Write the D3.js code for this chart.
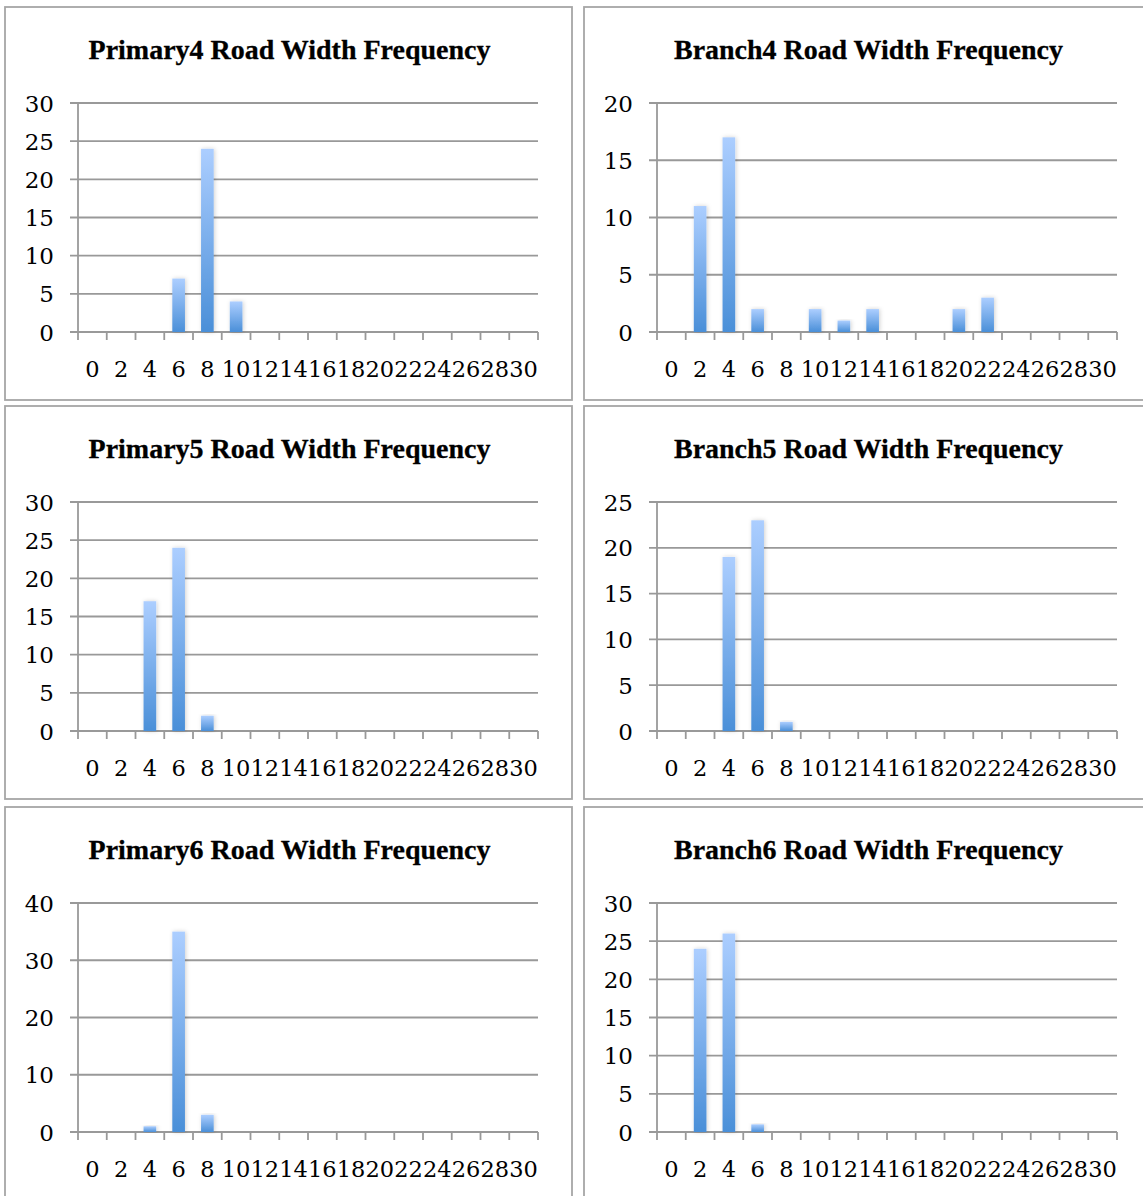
<!DOCTYPE html>
<html><head><meta charset="utf-8">
<script src="https://cdn.jsdelivr.net/npm/d3@7"></script>
<style>body{margin:0;background:#fff}svg{display:block}</style>
</head><body>
<script>
const categories = [0,2,4,6,8,10,12,14,16,18,20,22,24,26,28,30];
const titles = ["Primary4 Road Width Frequency","Branch4 Road Width Frequency","Primary5 Road Width Frequency","Branch5 Road Width Frequency","Primary6 Road Width Frequency","Branch6 Road Width Frequency"];
const primary4 = [0,0,0,7,24,4,0,0,0,0,0,0,0,0,0,0];
const branch4  = [0,11,17,2,0,2,1,2,0,0,2,3,0,0,0,0];
const primary5 = [0,0,17,24,2,0,0,0,0,0,0,0,0,0,0,0];
const branch5  = [0,0,19,23,1,0,0,0,0,0,0,0,0,0,0,0];
const primary6 = [0,0,1,35,3,0,0,0,0,0,0,0,0,0,0,0];
const branch6  = [0,24,26,1,0,0,0,0,0,0,0,0,0,0,0,0];
const yMax = [30,20,30,25,40,30];
const yStep = [5,5,5,5,10,5];
const seriesList = [primary4,branch4,primary5,branch5,primary6,branch6];

const W=1143,H=1196;
const svg=d3.select("body").append("svg").attr("width",W).attr("height",H);
const defs=svg.append("defs");
const g=defs.append("linearGradient").attr("id","barGrad").attr("x1",0).attr("y1",0).attr("x2",0).attr("y2",1);
g.append("stop").attr("offset","0%").attr("stop-color","#acceff");
g.append("stop").attr("offset","100%").attr("stop-color","#4a8fd8");
const f=defs.append("filter").attr("id","shadow").attr("x","-50%").attr("y","-10%").attr("width","200%").attr("height","120%");
f.append("feDropShadow").attr("dx",1).attr("dy",0).attr("stdDeviation",2).attr("flood-color","#000").attr("flood-opacity",0.18);

const gridColor="#999999";
const panelW=567, panelH=393;
seriesList.forEach((vals,i)=>{
  const col=i%2,row=Math.floor(i/2);
  const px=col===0?5:584, py=[7,406,807][row];
  const p=svg.append("g").attr("transform",`translate(${px},${py})`);
  p.append("rect").attr("x",0).attr("y",0).attr("width",panelW).attr("height",panelH)
    .attr("fill","#fff").attr("stroke","#a6a6a6").attr("stroke-width",1.8);
  const t=p.append("text").attr("x",panelW/2+1).attr("y",52).attr("text-anchor","middle")
    .attr("font-family","Liberation Serif").attr("font-weight","bold").attr("font-size",26).attr("fill","#000")
    .attr("stroke","#000").attr("stroke-width",0.3).text(titles[i]);
  const target = col===0?402:389;
  const len=t.node().getComputedTextLength();
  t.attr("font-size",26*target/len);

  const left=73, top=96, pw=460, ph=229;
  const x=d3.scaleBand().domain(categories).range([left,left+pw]).padding(0);
  const y=d3.scaleLinear().domain([0,yMax[i]]).range([top+ph,top]);
  const ticks=d3.range(0,yMax[i]+0.001,yStep[i]);
  p.append("g").selectAll("line").data(ticks).join("line")
    .attr("x1",left-8).attr("x2",left+pw).attr("y1",d=>y(d)).attr("y2",d=>y(d))
    .attr("stroke",gridColor).attr("stroke-width",1.8);
  p.append("line").attr("x1",left).attr("x2",left).attr("y1",top).attr("y2",top+ph).attr("stroke",gridColor).attr("stroke-width",1.8);
  p.append("g").selectAll("text").data(ticks).join("text")
    .attr("x",left-24).attr("y",d=>y(d)+8.5).attr("text-anchor","end")
    .attr("font-family","DejaVu Serif").attr("font-size",23).attr("fill","#000").text(d=>d);
  const edges=categories.map(c=>x(c)).concat([left+pw]);
  p.append("g").selectAll("line").data(edges).join("line")
    .attr("x1",d=>d).attr("x2",d=>d).attr("y1",top+ph).attr("y2",top+ph+8)
    .attr("stroke",gridColor).attr("stroke-width",1.8);
  p.append("g").selectAll("text").data(categories).join("text")
    .attr("x",d=>x(d)+x.bandwidth()/2).attr("y",top+ph+45).attr("text-anchor","middle")
    .attr("font-family","DejaVu Serif").attr("font-size",22.5).attr("fill","#000").text(d=>d);
  const bw=x.bandwidth()*0.44;
  p.append("g").selectAll("rect").data(categories.map((c,k)=>({c,v:vals[k]})).filter(d=>d.v>0)).join("rect")
    .attr("x",d=>x(d.c)+(x.bandwidth()-bw)/2).attr("width",bw)
    .attr("y",d=>y(d.v)).attr("height",d=>y(0)-y(d.v))
    .attr("fill","url(#barGrad)").attr("filter","url(#shadow)");
});
</script>
</body></html>
